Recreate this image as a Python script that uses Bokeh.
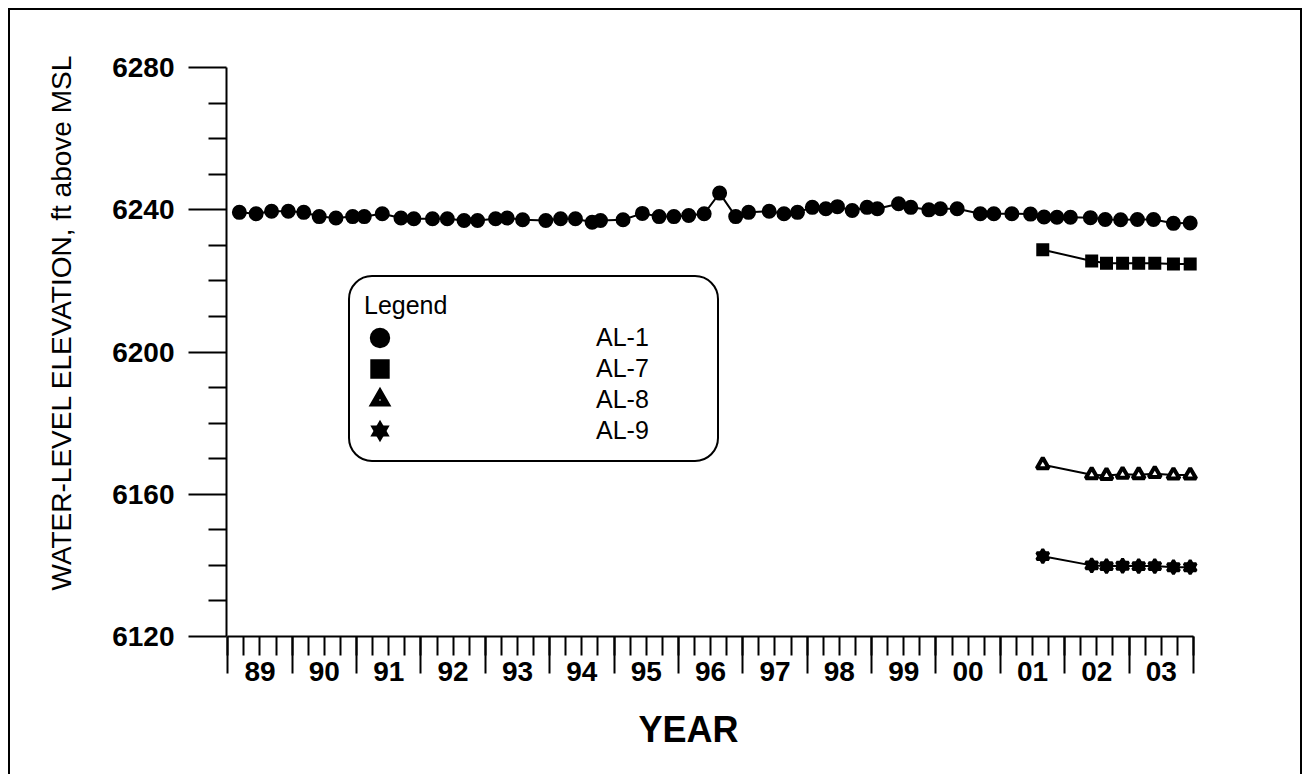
from bokeh.plotting import figure
from bokeh.models import (Range1d, LinearAxis, FixedTicker, Legend, LegendItem, Title)
from bokeh.embed import file_html
from bokeh.resources import INLINE

# ---------------- data (decimal year, ft above MSL) ----------------
al1_dates = [1989.18, 1989.44, 1989.68, 1989.94, 1990.18, 1990.42, 1990.68, 1990.94,
             1991.12, 1991.40, 1991.69, 1991.89, 1992.18, 1992.41, 1992.67, 1992.88,
             1993.16, 1993.34, 1993.58, 1993.94, 1994.17, 1994.40, 1994.66, 1994.79,
             1995.14, 1995.44, 1995.70, 1995.93, 1996.16, 1996.40, 1996.64, 1996.89,
             1997.09, 1997.41, 1997.64, 1997.85, 1998.08, 1998.29, 1998.47, 1998.70,
             1998.93, 1999.09, 1999.42, 1999.61, 1999.89, 2000.07, 2000.33, 2000.69,
             2000.90, 2001.18, 2001.47, 2001.68, 2001.88, 2002.09, 2002.40, 2002.63,
             2002.87, 2003.13, 2003.38, 2003.69, 2003.95]
al1_levels = [6239.3, 6238.9, 6239.6, 6239.6, 6239.3, 6238.1, 6237.7, 6238.1,
              6238.1, 6238.9, 6237.7, 6237.5, 6237.5, 6237.5, 6237.0, 6237.0,
              6237.5, 6237.7, 6237.2, 6237.0, 6237.5, 6237.5, 6236.5, 6237.0,
              6237.2, 6239.0, 6238.1, 6238.1, 6238.4, 6238.9, 6244.7, 6238.1,
              6239.3, 6239.6, 6238.9, 6239.3, 6240.7, 6240.3, 6240.9, 6239.8,
              6240.7, 6240.3, 6241.7, 6240.7, 6240.0, 6240.3, 6240.3, 6238.9,
              6238.9, 6238.9, 6238.8, 6238.0, 6237.9, 6237.9, 6237.8, 6237.3,
              6237.2, 6237.3, 6237.3, 6236.2, 6236.3]

new_well_dates = [2001.66, 2002.42, 2002.65, 2002.90, 2003.15, 2003.40, 2003.69, 2003.95]
al7_levels = [6228.8, 6225.6, 6225.0, 6225.0, 6225.0, 6225.0, 6224.8, 6224.8]
al8_levels = [6168.3, 6165.5, 6165.3, 6165.6, 6165.5, 6165.8, 6165.4, 6165.4]
al9_levels = [6142.6, 6140.0, 6139.8, 6139.9, 6139.8, 6139.8, 6139.5, 6139.5]

year_edges = [1989, 1990, 1991, 1992, 1993, 1994, 1995, 1996, 1997, 1998,
              1999, 2000, 2001, 2002, 2003, 2004]
year_labels = ["89", "90", "91", "92", "93", "94", "95", "96", "97", "98",
               "99", "00", "01", "02", "03"]
y_ticks = [6120, 6160, 6200, 6240, 6280]

year_mids = [y + 0.5 for y in year_edges[:-1]]
quarter_ticks = [year_edges[0] + 0.25 * i for i in range(4 * (len(year_edges) - 1) + 1)]
y_minor = [v for v in range(y_ticks[0], y_ticks[-1] + 1, 10) if v not in y_ticks]

FONT = "Liberation Sans"

p = figure(width=1294, height=766, output_backend="svg", toolbar_location=None,
           x_range=Range1d(1988.98, 2004.25), y_range=Range1d(6120, 6282),
           x_axis_location=None, y_axis_location=None,
           min_border_left=216, min_border_right=95, min_border_top=50, min_border_bottom=140,
           outline_line_color=None, background_fill_color="white", border_fill_color="white",
           margin=(8, 0, 0, 8),
           styles={"border-left": "2px solid black", "border-top": "2px solid black",
                   "border-right": "2px solid black"})
p.xgrid.visible = False
p.ygrid.visible = False

# ---------------- axes ----------------
yax = LinearAxis(ticker=FixedTicker(ticks=y_ticks, minor_ticks=y_minor), bounds=(6120, 6280))
yax.major_tick_out = 38
yax.major_tick_in = 0
yax.minor_tick_out = 18
yax.minor_tick_in = 0
yax.axis_line_width = 2
yax.major_tick_line_width = 2
yax.minor_tick_line_width = 2
yax.major_label_text_font = FONT
yax.major_label_text_font_style = "bold"
yax.major_label_text_font_size = "28px"
yax.major_label_text_color = "black"
yax.major_label_standoff = 14
p.add_layout(yax, "left")

# inner x axis: year boundaries (long ticks) and quarters (short ticks)
xtk = LinearAxis(ticker=FixedTicker(ticks=year_edges, minor_ticks=quarter_ticks), bounds=(1989, 2004),
                 major_label_overrides={y: "" for y in year_edges})
xtk.major_tick_out = 37
xtk.major_tick_in = 0
xtk.minor_tick_out = 19
xtk.minor_tick_in = 0
xtk.axis_line_width = 2
xtk.major_tick_line_width = 2
xtk.minor_tick_line_width = 2
xtk.major_label_text_font_size = "1px"
xtk.major_label_standoff = 0
p.add_layout(xtk, "below")

# outer x axis: year labels centred in each year
xlab = LinearAxis(ticker=FixedTicker(ticks=year_mids, minor_ticks=[]), bounds=(1989, 2004),
                  major_label_overrides={m: s for m, s in zip(year_mids, year_labels)})
xlab.axis_line_color = None
xlab.major_tick_out = 0
xlab.major_tick_in = 0
xlab.minor_tick_out = 0
xlab.minor_tick_in = 0
xlab.major_tick_line_color = None
xlab.major_label_text_font = FONT
xlab.major_label_text_font_style = "bold"
xlab.major_label_text_font_size = "28px"
xlab.major_label_text_color = "black"
xlab.major_label_standoff = -12
p.add_layout(xlab, "below")

p.add_layout(Title(text="YEAR", align="left", offset=412, vertical_align="middle",
                   text_font=FONT, text_font_size="36px", text_font_style="bold",
                   text_color="black", standoff=48), "below")
p.add_layout(Title(text="WATER-LEVEL ELEVATION, ft above MSL", align="left", offset=46,
                   vertical_align="top",
                   text_font=FONT, text_font_size="28px", text_font_style="normal",
                   text_color="black", standoff=62), "left")

# ---------------- series ----------------
p.line(al1_dates, al1_levels, line_color="black", line_width=2)
p.scatter(al1_dates, al1_levels, marker="circle", size=9, fill_color="black",
          line_color="black", line_width=6)

p.line(new_well_dates, al7_levels, line_color="black", line_width=2)
p.scatter(new_well_dates, al7_levels, marker="square", size=7, fill_color="black",
          line_color="black", line_width=6, line_join="miter")

p.line(new_well_dates, al8_levels, line_color="black", line_width=2)
p.scatter(new_well_dates, al8_levels, marker="triangle", size=12, fill_color="white",
          line_color="black", line_width=4)

p.line(new_well_dates, al9_levels, line_color="black", line_width=2)
p.scatter(new_well_dates, al9_levels, marker="triangle", size=12, fill_color="black",
          line_color="black", line_width=3)
p.scatter(new_well_dates, al9_levels, marker="inverted_triangle", size=12, fill_color="black",
          line_color="black", line_width=3)

# hidden legend-only renderers (same data) giving the larger legend symbols
def legend_symbol(x, y, marker, fill, lw):
    return p.scatter(x, y, marker=marker, size=12, fill_color=fill, line_color="black",
                     line_width=lw, line_join="miter", visible=False)

g1 = legend_symbol(al1_dates, al1_levels, "circle", "black", 8)
g7 = legend_symbol(new_well_dates, al7_levels, "square", "black", 7)
g8 = legend_symbol(new_well_dates, al8_levels, "triangle", "white", 6)
g9a = legend_symbol(new_well_dates, al9_levels, "triangle", "black", 4)
g9b = legend_symbol(new_well_dates, al9_levels, "inverted_triangle", "black", 4)

# ---------------- legend ----------------
legend = Legend(items=[LegendItem(label="AL-1", renderers=[g1]),
                       LegendItem(label="AL-7", renderers=[g7]),
                       LegendItem(label="AL-8", renderers=[g8]),
                       LegendItem(label="AL-9", renderers=[g9a, g9b])],
                location=(122, 174), title="Legend", orientation="vertical",
                click_policy="none")
legend.inactive_fill_alpha = 0
legend.title_text_font = FONT
legend.title_text_font_size = "25px"
legend.title_text_font_style = "normal"
legend.title_text_color = "black"
legend.title_standoff = 2
legend.label_text_font = FONT
legend.label_text_font_size = "25px"
legend.label_text_color = "black"
legend.glyph_width = 31
legend.glyph_height = 31
legend.label_height = 26
legend.label_standoff = 201
legend.label_width = 107
legend.spacing = 0
legend.padding = 14
legend.margin = 0
legend.border_line_color = "black"
legend.border_line_alpha = 1
legend.border_line_width = 2.5
legend.background_fill_color = "white"
legend.background_fill_alpha = 1
if "border_radius" in Legend.properties():
    legend.border_radius = 24
p.add_layout(legend)

open("out.html", "w").write(file_html(p, INLINE))
